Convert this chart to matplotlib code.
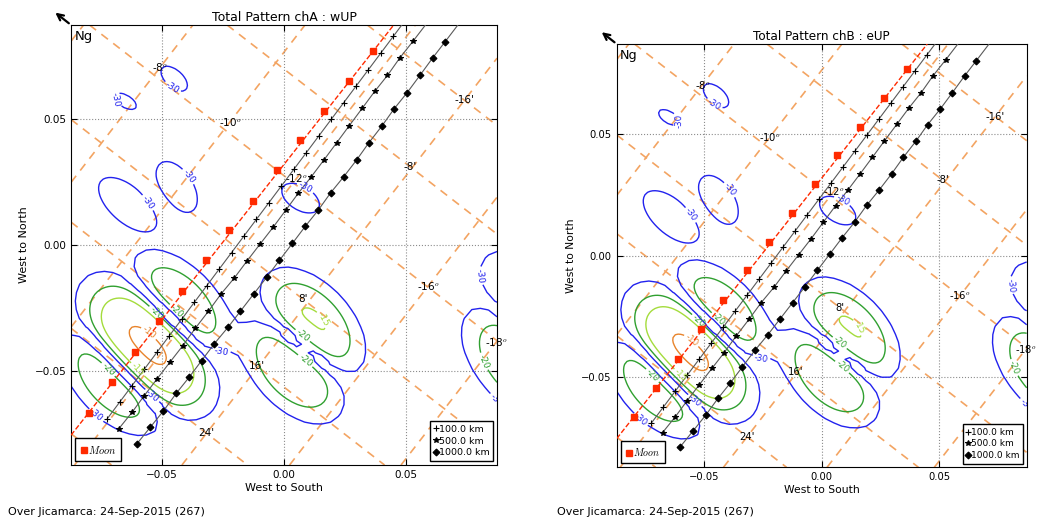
import numpy as np
import matplotlib.pyplot as plt

plt.rcParams['mathtext.fontset'] = 'cm'

LIM = 0.0873

# Moon positions over the night
moon_x = [-0.0801, -0.0705, -0.0610, -0.0513, -0.0419, -0.0320, -0.0225,
          -0.0127, -0.0030, 0.0067, 0.0165, 0.0265, 0.0365]
moon_y = [-0.0666, -0.0545, -0.0425, -0.0302, -0.0183, -0.0058, 0.0058,
          0.0176, 0.0296, 0.0415, 0.0532, 0.0649, 0.0769]

# field-line tracks at 100, 500 and 1000 km (last point lies past the top edge)
h100_x = [-0.0725, -0.0674, -0.0623, -0.0572, -0.0521, -0.0470, -0.0419, -0.0368,
          -0.0317, -0.0266, -0.0215, -0.0164, -0.0113, -0.0062, -0.0011, 0.0040,
          0.0091, 0.0142, 0.0193, 0.0244, 0.0295, 0.0346, 0.0397, 0.0448, 0.0505]
h100_y = [-0.0690, -0.0624, -0.0558, -0.0492, -0.0426, -0.0360, -0.0294, -0.0228,
          -0.0162, -0.0096, -0.0030, 0.0036, 0.0102, 0.0168, 0.0234, 0.0300,
          0.0366, 0.0432, 0.0498, 0.0564, 0.0630, 0.0696, 0.0762, 0.0828, 0.0902]
h500_x = [-0.0678, -0.0623, -0.0573, -0.0521, -0.0466, -0.0416, -0.0364, -0.0310,
          -0.0258, -0.0203, -0.0153, -0.0098, -0.0045, 0.0007, 0.0059, 0.0111,
          0.0164, 0.0216, 0.0267, 0.0320, 0.0372, 0.0424, 0.0475, 0.0529, 0.0590]
h500_y = [-0.0730, -0.0664, -0.0598, -0.0532, -0.0463, -0.0401, -0.0331, -0.0263,
          -0.0194, -0.0130, -0.0065, 0.0004, 0.0070, 0.0138, 0.0206, 0.0270,
          0.0338, 0.0406, 0.0473, 0.0542, 0.0610, 0.0673, 0.0743, 0.0809, 0.0886]
h1000_x = [-0.0603, -0.0548, -0.0494, -0.0442, -0.0389, -0.0338, -0.0285, -0.0230,
           -0.0179, -0.0124, -0.0071, -0.0019, 0.0034, 0.0087, 0.0140, 0.0191,
           0.0244, 0.0298, 0.0348, 0.0401, 0.0451, 0.0505, 0.0557, 0.0609, 0.0659, 0.0726]
h1000_y = [-0.0789, -0.0723, -0.0658, -0.0589, -0.0525, -0.0459, -0.0391, -0.0327,
           -0.0263, -0.0194, -0.0128, -0.0061, 0.0006, 0.0074, 0.0138, 0.0207,
           0.0270, 0.0338, 0.0406, 0.0472, 0.0540, 0.0605, 0.0673, 0.0742, 0.0805, 0.0890]

# magnetic grid: dip lines (rising) and declination lines (falling)
dip_labels = ['-6', '-8', '-10', '-12', '-14', '-16', '-18']
dip_x = [-0.0800, -0.0507, -0.0221, 0.0052, 0.0320, 0.0590, 0.0870]
dip_y = [0.0900, 0.0706, 0.0489, 0.0265, 0.0050, -0.0164, -0.0385]
dip_shown = ['-8', '-10', '-12', '-16', '-18']
DIP_SLOPE = 1.25
dec_labels = ['-16', '-8', '0', '8', '16', '24', '32']
dec_x = [0.0740, 0.0516, 0.0300, 0.0079, -0.0112, -0.0319, -0.0530]
dec_y = [0.0574, 0.0311, 0.0050, -0.0216, -0.0480, -0.0746, -0.1006]
dec_shown = ['-16', '-8', '8', '16', '24']
DEC_SLOPE = -0.75

# antenna pattern: main lobes / side lobes (centre, peak dB, sign, widths, tilt)
lobe_x = [-0.056, -0.042, -0.0705, 0.0117, 0.0035, 0.099, 0.097]
lobe_y = [-0.040, -0.023, -0.0545, -0.0306, -0.0496, -0.021, -0.048]
lobe_db = [-9.6, -16.0, -16.0, -14.7, -15.3, -17.0, -15.0]
lobe_sign = [1, -1, -1, 1, -1, 1, -1]
lobe_su = [0.0222, 0.018, 0.018, 0.0176, 0.0176, 0.016, 0.020]
lobe_sv = [0.0118, 0.0096, 0.0096, 0.0102, 0.0102, 0.009, 0.011]
lobe_ang = [-45, -45, -45, -45, -45, -45, -45]

# weak far side lobes (only reach the -30 dB contour)
far_x = [-0.065, -0.045, -0.064, -0.044, 0.0068]
far_y = [0.057, 0.066, 0.016, 0.023, 0.0186]
far_db = [-28.0, -27.5, -26.0, -27.0, -28.0]
far_sign = [1, -1, 1, -1, 1]
far_su = [0.0065, 0.0078, 0.0149, 0.013, 0.011]
far_sv = [0.0032, 0.0042, 0.0074, 0.0074, 0.0062]
far_ang = [-30, -40, -40, -55, -30]

LOBE_POW = 3.0

levels = [-30, -20, -15, -10]
level_colors = ['#2222ee', '#30a030', '#a4dc3c', '#e8842c']

ORANGE = '#f3a462'
RED = '#ff2a00'


def pattern_db(n, xs, ys, dbs, sgs, sus, svs, angs):
    g = np.linspace(-LIM, LIM, n)
    X, Y = np.meshgrid(g, g)
    E = np.zeros_like(X)
    for x0, y0, db, sg, su, sv, ang in zip(xs, ys, dbs, sgs, sus, svs, angs):
        t = np.deg2rad(ang)
        u = (X - x0) * np.cos(t) + (Y - y0) * np.sin(t)
        v = -(X - x0) * np.sin(t) + (Y - y0) * np.cos(t)
        r = np.sqrt((u / su) ** 2 + (v / sv) ** 2)
        E += sg * 10 ** (db / 20.0) * np.exp(-0.5 * r ** LOBE_POW)
    return X, Y, 20 * np.log10(np.abs(E) + 1e-6)


main_lobes = (lobe_x, lobe_y, lobe_db, lobe_sign, lobe_su, lobe_sv, lobe_ang)
far_lobes = (far_x, far_y, far_db, far_sign, far_su, far_sv, far_ang)


def contour_levels(ax, n, lobes, lev, cols, fs):
    X, Y, P = pattern_db(n, *lobes)
    cs = ax.contour(X, Y, P, levels=lev, colors=cols, linewidths=1.0,
                    linestyles='solid', zorder=2)
    ax.clabel(cs, fmt='%d', fontsize=fs - 1, inline=True, inline_spacing=2)


def draw_panel(ax, title, fs):
    ax.set_xlim(-LIM, LIM)
    ax.set_ylim(-LIM, LIM)
    ax.set_xticks([-0.05, 0.0, 0.05])
    ax.set_yticks([-0.05, 0.0, 0.05])
    ax.grid(True, ls=':', color='0.55', lw=0.8)
    ax.tick_params(direction='in', length=4, top=True, right=True, labelsize=fs)

    for x0, y0 in zip(dip_x, dip_y):
        ax.axline((x0, y0), slope=DIP_SLOPE, color=ORANGE, ls=(0, (5, 4)), lw=1.2, zorder=1)
    for x0, y0 in zip(dec_x, dec_y):
        ax.axline((x0, y0), slope=DEC_SLOPE, color=ORANGE, ls=(0, (5, 4)), lw=1.2, zorder=1)
    for lab, x0, y0 in zip(dip_labels, dip_x, dip_y):
        if lab in dip_shown:
            ax.text(x0, y0, lab + '$^o$', ha='center', va='center', fontsize=fs, clip_on=False, zorder=6)
    for lab, x0, y0 in zip(dec_labels, dec_x, dec_y):
        if lab in dec_shown:
            ax.text(x0, y0, lab + "'", ha='center', va='center', fontsize=fs, clip_on=False, zorder=6)

    # strong lobes: fine grid for the inner levels, coarse grid for -30 dB
    contour_levels(ax, 161, main_lobes, levels[1:], level_colors[1:], fs)
    contour_levels(ax, 52, main_lobes, levels[:1], level_colors[:1], fs)
    contour_levels(ax, 161, far_lobes, levels[:1], level_colors[:1], fs)

    for tx, ty, mk, ms, lab in [(h100_x, h100_y, '+', 4, '100.0 km'),
                                (h500_x, h500_y, '*', 4, '500.0 km'),
                                (h1000_x, h1000_y, 'D', 3.5, '1000.0 km')]:
        ax.plot(tx, ty, '-', color='0.35', lw=0.8, zorder=3)
        ax.plot(tx[:-1], ty[:-1], ls='none', marker=mk, ms=ms, color='k', mew=0.8, zorder=3, label=lab)

    ax.axline((moon_x[0], moon_y[0]), (moon_x[-1], moon_y[-1]), color=RED, ls='--', lw=1.0, zorder=4)
    moon_h, = ax.plot(moon_x, moon_y, ls='none', marker='s', ms=5, color=RED, zorder=5)

    leg1 = ax.legend([moon_h], ['$Moon$'], loc='lower left', fontsize=fs, fancybox=False,
                     edgecolor='k', handlelength=0.6, handletextpad=0.1, borderpad=0.5,
                     borderaxespad=0.4, framealpha=1)
    leg1.get_frame().set_linewidth(1.0)
    ax.add_artist(leg1)
    handles, labels = ax.get_legend_handles_labels()
    leg2 = ax.legend(handles, labels, loc='lower right', fontsize=fs - 0.7, fancybox=False,
                     edgecolor='k', handlelength=0.4, handletextpad=0.1, borderpad=0.4,
                     labelspacing=0.3, borderaxespad=0.4, framealpha=1)
    leg2.get_frame().set_linewidth(1.0)

    ax.set_title(title, fontsize=fs * 1.2, pad=3)
    ax.set_xlabel('West to South', fontsize=fs * 1.07, labelpad=2)
    ax.set_ylabel('West to North', fontsize=fs * 1.07)
    ax.text(0.008, 0.988, 'Ng', transform=ax.transAxes, ha='left', va='top', fontsize=fs * 1.27)
    ax.annotate('', xy=(-0.042, 1.032), xycoords='axes fraction', xytext=(0, 1),
                textcoords='axes fraction', annotation_clip=False,
                arrowprops=dict(arrowstyle='->', lw=1.6, color='k', mutation_scale=11))


fig = plt.figure(figsize=(10.4, 5.24), dpi=100)
ax1 = fig.add_axes([0.0683, 0.1126, 0.4096, 0.8397])
ax2 = fig.add_axes([0.5930, 0.1082, 0.3942, 0.8078])
draw_panel(ax1, 'Total Pattern chA : wUP', 7.5)
draw_panel(ax2, 'Total Pattern chB : eUP', 7.2)

fig.text(0.0077, 0.0235, 'Over Jicamarca: 24-Sep-2015 (267)', fontsize=8, va='center')
fig.text(0.5353, 0.0235, 'Over Jicamarca: 24-Sep-2015 (267)', fontsize=8, va='center')

fig.savefig('out.png', dpi=100)
